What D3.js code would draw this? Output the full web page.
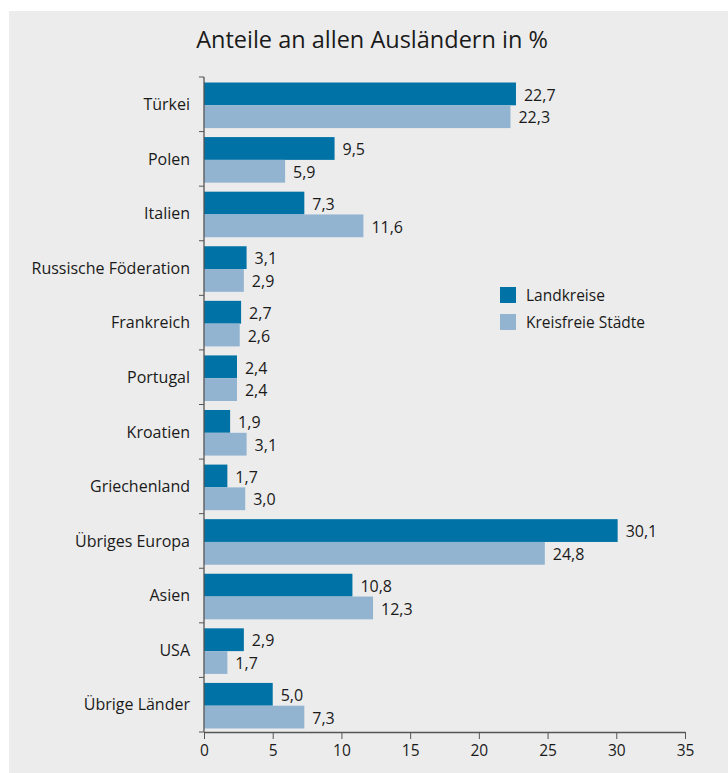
<!DOCTYPE html>
<html>
<head>
<meta charset="utf-8">
<script src="https://cdn.jsdelivr.net/npm/d3@7"></script>
<style>
  body { margin: 0; background: #fff; }
  svg { display: block; font-family: "Open Sans", sans-serif; }
</style>
</head>
<body>
<script>
var countries = ["Türkei", "Polen", "Italien", "Russische Föderation", "Frankreich", "Portugal",
    "Kroatien", "Griechenland", "Übriges Europa", "Asien", "USA", "Übrige Länder"];
var landkreise = [22.7, 9.5, 7.3, 3.1, 2.7, 2.4, 1.9, 1.7, 30.1, 10.8, 2.9, 5.0];
var staedte = [22.3, 5.9, 11.6, 2.9, 2.6, 2.4, 3.1, 3.0, 24.8, 12.3, 1.7, 7.3];
var seriesNames = ["Landkreise", "Kreisfreie Städte"];
var colors = ["#0072a5", "#93b4d1"];
var xTicks = [0, 5, 10, 15, 20, 25, 30, 35];

var width = 728, height = 773;
var margin = { left: 204, right: 43, top: 77, bottom: 41 };
var bodyWidth = width - margin.left - margin.right;
var bodyHeight = height - margin.top - margin.bottom;

var svg = d3.select("body").append("svg")
    .attr("width", width).attr("height", height);

// grey panel
svg.append("rect")
    .attr("x", 9).attr("y", 11)
    .attr("width", width - 9).attr("height", height - 11)
    .attr("fill", "#ececec");

svg.append("text")
    .attr("x", 372).attr("y", 48)
    .attr("text-anchor", "middle")
    .style("font-size", "23.5px")
    .attr("fill", "#1a1a1a")
    .text("Anteile an allen Ausländern in %");

var g = svg.append("g")
    .attr("transform", "translate(" + [margin.left, margin.top] + ")");

var xScale = d3.scaleLinear().domain([0, 35]).range([0, bodyWidth]);
var yScale = d3.scaleBand().domain(countries).range([0, bodyHeight]);
var inner = d3.scaleBand().domain(seriesNames)
    .range([5.5, yScale.bandwidth() - 3.5]);

var data = [];
countries.forEach(function(c, i) {
    data.push({ country: c, series: seriesNames[0], value: landkreise[i] });
    data.push({ country: c, series: seriesNames[1], value: staedte[i] });
});

g.selectAll(".bar")
    .data(data)
    .enter()
    .append("rect")
    .attr("class", "bar")
    .attr("x", 0)
    .attr("y", d => yScale(d.country) + inner(d.series))
    .attr("width", d => xScale(d.value))
    .attr("height", inner.bandwidth())
    .attr("fill", (d, i) => colors[i % 2]);

g.selectAll(".val")
    .data(data)
    .enter()
    .append("text")
    .attr("class", "val")
    .attr("x", d => xScale(d.value) + 8)
    .attr("y", d => yScale(d.country) + inner(d.series) + inner.bandwidth() / 2)
    .attr("dy", "0.42em")
    .style("font-size", "16px")
    .attr("fill", "#1a1a1a")
    .text(d => d.value.toFixed(1).replace(".", ","));

// x axis
var axisX = g.append("g")
    .attr("transform", "translate(0," + bodyHeight + ")")
    .call(d3.axisBottom(xScale).tickValues(xTicks).tickSize(7).tickSizeOuter(0));
axisX.select(".domain").attr("stroke", "#555").attr("stroke-width", 1.3);
axisX.selectAll(".tick line").attr("stroke", "#555");
axisX.selectAll("text")
    .style("font-size", "15.5px")
    .attr("fill", "#1a1a1a")
    .attr("font-family", "Open Sans")
    .attr("y", 13);

// y axis with ticks at band boundaries
var boundaries = countries.map(c => yScale(c)).concat([bodyHeight]);
g.append("line")
    .attr("x1", 0).attr("x2", 0).attr("y1", 0).attr("y2", bodyHeight)
    .attr("stroke", "#555").attr("stroke-width", 1.3);
g.selectAll(".ytick")
    .data(boundaries)
    .enter()
    .append("line")
    .attr("x1", -5).attr("x2", 0)
    .attr("y1", d => d).attr("y2", d => d)
    .attr("stroke", "#555");
g.selectAll(".ylab")
    .data(countries)
    .enter()
    .append("text")
    .attr("x", -14)
    .attr("y", d => yScale(d) + yScale.bandwidth() / 2)
    .attr("dy", "0.36em")
    .attr("text-anchor", "end")
    .style("font-size", "16px")
    .attr("fill", "#1a1a1a")
    .text(d => d);

// legend
var legend = svg.append("g").attr("transform", "translate(500,287)");
seriesNames.forEach(function(s, i) {
    legend.append("rect")
        .attr("x", 0).attr("y", i * 27)
        .attr("width", 16).attr("height", 16)
        .attr("fill", colors[i]);
    legend.append("text")
        .attr("x", 26).attr("y", i * 27 + 8)
        .attr("dy", "0.36em")
        .style("font-size", "15.5px")
        .attr("fill", "#1a1a1a")
        .text(s);
});
</script>
</body>
</html>
